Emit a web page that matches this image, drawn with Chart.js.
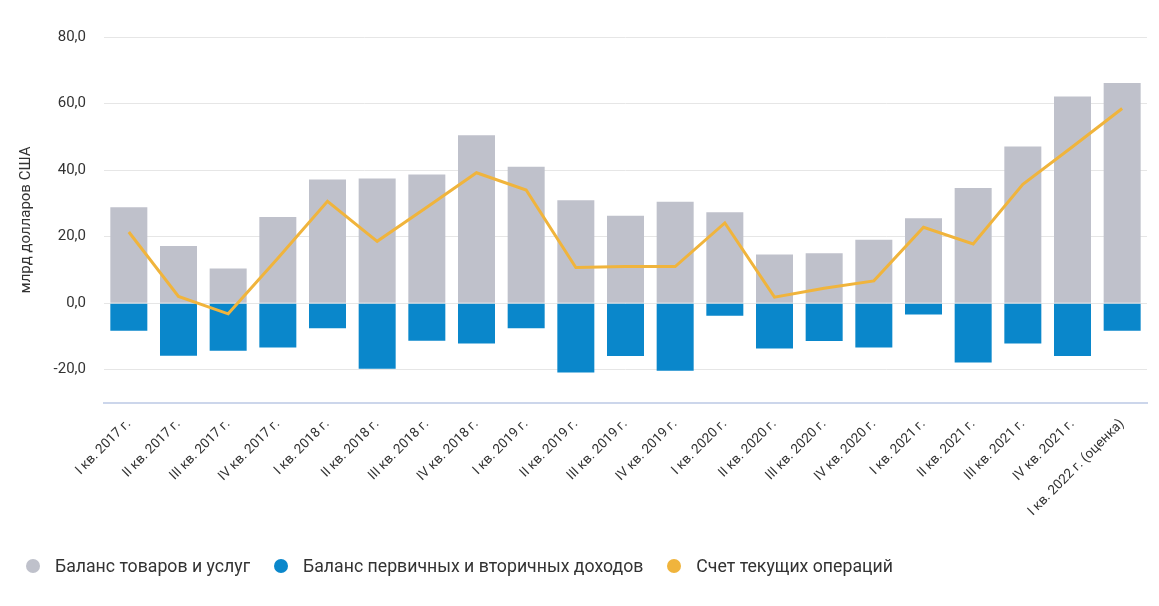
<!DOCTYPE html>
<html>
<head>
<meta charset="utf-8">
<script src="https://cdn.jsdelivr.net/npm/chart.js@4"></script>
<style>
  body { margin: 0; background: #fff; }
  #wrap { position: relative; width: 1159px; height: 606px; }
  #legend { position: absolute; left: 26px; top: 556px; font: 17.7px Roboto, sans-serif; color: #333; display: flex; }
  #legend span.item { display: flex; align-items: center; margin-right: 24px; }
  #legend span.dot { width: 14px; height: 14px; border-radius: 50%; margin-right: 15px; display: inline-block; }
</style>
</head>
<body>
<div id="wrap">
  <canvas id="myChart" width="1159" height="606"></canvas>
  <div id="legend"></div>
</div>
<script>
// quarters on x axis
const quarters = [
  'I кв. 2017 г.', 'II кв. 2017 г.', 'III кв. 2017 г.', 'IV кв. 2017 г.',
  'I кв. 2018 г.', 'II кв. 2018 г.', 'III кв. 2018 г.', 'IV кв. 2018 г.',
  'I кв. 2019 г.', 'II кв. 2019 г.', 'III кв. 2019 г.', 'IV кв. 2019 г.',
  'I кв. 2020 г.', 'II кв. 2020 г.', 'III кв. 2020 г.', 'IV кв. 2020 г.',
  'I кв. 2021 г.', 'II кв. 2021 г.', 'III кв. 2021 г.', 'IV кв. 2021 г.',
  'I кв. 2022 г. (оценка)'
]

// series, bn USD
const goodsServices = [28.8, 17.2, 10.4, 25.9, 37.2, 37.5, 38.7, 50.5, 41.0, 30.9, 26.3, 30.5, 27.3, 14.6, 15.0, 19.1, 25.5, 34.6, 47.1, 62.1, 66.2]
const incomeBalance = [-8.3, -15.8, -14.3, -13.3, -7.5, -19.7, -11.3, -12.1, -7.5, -20.8, -15.9, -20.3, -3.8, -13.6, -11.4, -13.3, -3.4, -17.8, -12.1, -15.9, -8.3]
const currentAccount = [21.4, 2.0, -3.2, 13.5, 30.6, 18.6, 28.8, 39.2, 34.0, 10.7, 11.0, 11.0, 24.1, 1.8, 4.5, 6.7, 22.8, 17.8, 35.7, 47.0, 58.5]

const seriesNames = ['Баланс товаров и услуг', 'Баланс первичных и вторичных доходов', 'Счет текущих операций']
const seriesColors = ['#bfc1cb', '#0a87cb', '#f0b43c']

const ctx = document.getElementById('myChart').getContext('2d')
Chart.defaults.font.family = 'Roboto, sans-serif'
Chart.defaults.color = '#333'

const myChart = new Chart(ctx, {
  data: {
    labels: quarters,
    datasets: [
      {
        type: 'line',
        label: seriesNames[2],
        data: currentAccount,
        borderColor: seriesColors[2],
        borderWidth: 3,
        pointRadius: 0,
        tension: 0,
        order: 0
      },
      {
        type: 'bar',
        label: seriesNames[0],
        data: goodsServices,
        backgroundColor: seriesColors[0],
        barPercentage: 0.745,
        categoryPercentage: 1,
        order: 1
      },
      {
        type: 'bar',
        label: seriesNames[1],
        data: incomeBalance,
        backgroundColor: seriesColors[1],
        barPercentage: 0.745,
        categoryPercentage: 1,
        order: 1
      }
    ]
  },
  options: {
    responsive: false,
    animation: false,
    layout: { padding: { top: 37, right: 12, bottom: 73, left: 0 } },
    plugins: {
      legend: { display: false },
      tooltip: { enabled: false }
    },
    scales: {
      x: {
        stacked: true,
        grid: { display: false },
        border: { color: '#ccd6eb', width: 2 },
        ticks: { minRotation: 45, maxRotation: 45, padding: 5, font: { size: 13.5 }, color: '#333' },
        afterFit: scale => { scale.height = 130 }
      },
      y: {
        min: -30,
        max: 80,
        border: { display: false },
        grid: {
          drawTicks: false,
          color: c => c.tick && c.tick.value === -30 ? 'rgba(0,0,0,0)' : '#e6e6e6'
        },
        ticks: {
          stepSize: 20,
          padding: 18,
          font: { size: 15 },
          color: '#333',
          callback: v => v === -30 ? '' : v.toFixed(1).replace('.', ',')
        },
        title: {
          display: true,
          text: 'млрд долларов США',
          font: { size: 15 },
          color: '#333',
          padding: { top: 17, bottom: 0 }
        },
        afterFit: scale => { scale.width = 104 }
      }
    }
  }
})

// legend below the chart
const legend = document.getElementById('legend')
;[0, 1, 2].forEach(i => {
  const item = document.createElement('span')
  item.className = 'item'
  item.innerHTML = '<span class="dot" style="background:' + seriesColors[i] + '"></span>' + seriesNames[i]
  legend.appendChild(item)
})
</script>
</body>
</html>
